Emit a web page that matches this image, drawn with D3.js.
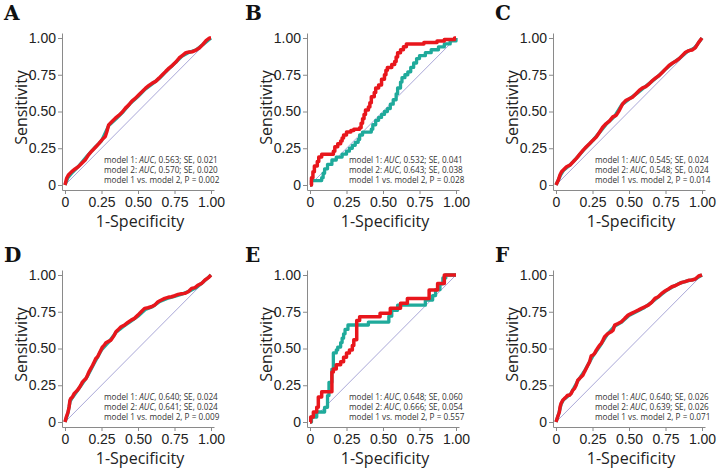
<!DOCTYPE html>
<html><head><meta charset="utf-8">
<script src="https://cdn.jsdelivr.net/npm/d3@7"></script>
<style>body{margin:0;background:#fff}</style>
</head><body>
<svg id="c" width="725" height="473"></svg>
<script>
// ---------- data ----------
const panelLabels = ["A","B","C","D","E","F"];
const tickValues = [0, 0.25, 0.5, 0.75, 1];
const tickLabels = ["0","0.25","0.50","0.75","1.00"];
const xTitle = "1-Specificity";
const yTitle = "Sensitivity";

const annotA = ["model 1: AUC, 0.563; SE, 0.021","model 2: AUC, 0.570; SE, 0.020","model 1 vs. model 2, P = 0.002"];
const annotB = ["model 1: AUC, 0.532; SE, 0.041","model 2: AUC, 0.643; SE, 0.038","model 1 vs. model 2, P = 0.028"];
const annotC = ["model 1: AUC, 0.545; SE, 0.024","model 2: AUC, 0.548; SE, 0.024","model 1 vs. model 2, P = 0.014"];
const annotD = ["model 1: AUC, 0.640; SE, 0.024","model 2: AUC, 0.641; SE, 0.024","model 1 vs. model 2, P = 0.009"];
const annotE = ["model 1: AUC, 0.648; SE, 0.060","model 2: AUC, 0.666; SE, 0.054","model 1 vs. model 2, P = 0.557"];
const annotF = ["model 1: AUC, 0.640; SE, 0.026","model 2: AUC, 0.639; SE, 0.026","model 1 vs. model 2, P = 0.071"];

// model 1 (teal) and model 2 (red) ROC points: [1-specificity, sensitivity]
const tealA = [[0,0],[0.02,0.05],[0.05,0.085],[0.1,0.135],[0.15,0.195],[0.2,0.25],[0.25,0.3],[0.3,0.405],[0.35,0.45],[0.4,0.5],[0.45,0.558],[0.5,0.602],[0.55,0.652],[0.6,0.69],[0.65,0.728],[0.7,0.78],[0.75,0.826],[0.8,0.875],[0.85,0.902],[0.9,0.92],[0.95,0.96],[1,1]];
const redA = [[0,0],[0.011,0.045],[0.023,0.068],[0.046,0.091],[0.069,0.109],[0.092,0.125],[0.115,0.148],[0.138,0.17],[0.161,0.205],[0.184,0.232],[0.207,0.255],[0.23,0.28],[0.253,0.307],[0.276,0.33],[0.287,0.364],[0.299,0.409],[0.322,0.432],[0.345,0.455],[0.368,0.473],[0.391,0.495],[0.414,0.523],[0.437,0.545],[0.46,0.573],[0.483,0.591],[0.506,0.614],[0.529,0.636],[0.552,0.659],[0.575,0.677],[0.598,0.693],[0.621,0.705],[0.644,0.727],[0.667,0.75],[0.69,0.773],[0.713,0.795],[0.736,0.814],[0.759,0.836],[0.782,0.864],[0.805,0.882],[0.828,0.9],[0.851,0.905],[0.874,0.907],[0.897,0.918],[0.92,0.932],[0.943,0.955],[0.966,0.982],[0.989,1.0],[1,1]];

const tealB = [[0,0],[0.01,0.03],[0.08,0.05],[0.09,0.08],[0.10,0.11],[0.12,0.14],[0.15,0.17],[0.18,0.19],[0.22,0.21],[0.25,0.23],[0.27,0.25],[0.29,0.27],[0.31,0.29],[0.33,0.31],[0.34,0.34],[0.36,0.36],[0.42,0.38],[0.43,0.41],[0.45,0.44],[0.47,0.46],[0.49,0.48],[0.51,0.50],[0.53,0.52],[0.55,0.55],[0.57,0.58],[0.59,0.62],[0.60,0.66],[0.62,0.70],[0.63,0.73],[0.65,0.75],[0.67,0.77],[0.69,0.80],[0.71,0.83],[0.73,0.86],[0.75,0.88],[0.79,0.90],[0.83,0.92],[0.88,0.94],[0.92,0.96],[0.96,0.98],[1,1]];
const redB = [[0,0],[0.01,0.05],[0.02,0.09],[0.03,0.13],[0.05,0.16],[0.06,0.19],[0.08,0.21],[0.16,0.23],[0.17,0.26],[0.19,0.28],[0.21,0.30],[0.22,0.32],[0.23,0.34],[0.25,0.36],[0.28,0.37],[0.30,0.38],[0.34,0.39],[0.35,0.42],[0.36,0.45],[0.37,0.48],[0.38,0.51],[0.40,0.53],[0.41,0.56],[0.42,0.60],[0.44,0.63],[0.45,0.66],[0.47,0.68],[0.49,0.72],[0.51,0.75],[0.52,0.78],[0.53,0.80],[0.56,0.82],[0.58,0.84],[0.59,0.87],[0.60,0.90],[0.62,0.92],[0.64,0.94],[0.66,0.96],[0.78,0.97],[0.87,0.98],[0.92,0.99],[0.99,1.0],[1,1]];

const tealC = [[0,0],[0.03,0.065],[0.05,0.098],[0.1,0.14],[0.15,0.193],[0.2,0.25],[0.25,0.3],[0.3,0.36],[0.35,0.42],[0.4,0.465],[0.45,0.545],[0.5,0.584],[0.55,0.62],[0.6,0.66],[0.65,0.7],[0.7,0.74],[0.75,0.788],[0.8,0.83],[0.85,0.865],[0.9,0.908],[0.95,0.932],[1,1]];
const redC = [[0,0],[0.016,0.034],[0.027,0.068],[0.038,0.09],[0.05,0.102],[0.072,0.124],[0.095,0.135],[0.118,0.158],[0.14,0.181],[0.163,0.21],[0.186,0.237],[0.208,0.26],[0.231,0.282],[0.253,0.305],[0.276,0.327],[0.299,0.361],[0.321,0.395],[0.344,0.418],[0.367,0.436],[0.389,0.463],[0.412,0.474],[0.434,0.508],[0.457,0.553],[0.48,0.576],[0.502,0.587],[0.525,0.598],[0.548,0.621],[0.57,0.643],[0.593,0.661],[0.615,0.67],[0.638,0.688],[0.661,0.711],[0.683,0.729],[0.706,0.745],[0.729,0.767],[0.751,0.79],[0.774,0.813],[0.796,0.828],[0.819,0.842],[0.842,0.858],[0.864,0.88],[0.887,0.903],[0.91,0.914],[0.932,0.918],[0.955,0.935],[0.977,0.97],[1,1]];

const tealD = [[0,0],[0.02,0.06],[0.035,0.14],[0.05,0.165],[0.1,0.235],[0.15,0.305],[0.2,0.4],[0.25,0.49],[0.3,0.545],[0.35,0.61],[0.4,0.65],[0.45,0.685],[0.5,0.72],[0.55,0.765],[0.6,0.785],[0.65,0.82],[0.7,0.84],[0.75,0.855],[0.8,0.87],[0.85,0.89],[0.9,0.915],[0.95,0.955],[1,1]];
const redD = [[0,0],[0.009,0.034],[0.021,0.068],[0.028,0.102],[0.034,0.148],[0.039,0.159],[0.051,0.17],[0.062,0.193],[0.074,0.205],[0.085,0.216],[0.097,0.232],[0.108,0.25],[0.12,0.273],[0.131,0.284],[0.143,0.295],[0.154,0.318],[0.166,0.345],[0.177,0.364],[0.189,0.386],[0.2,0.409],[0.211,0.432],[0.223,0.443],[0.234,0.466],[0.246,0.489],[0.257,0.511],[0.269,0.523],[0.28,0.539],[0.292,0.545],[0.315,0.557],[0.338,0.591],[0.349,0.614],[0.361,0.625],[0.384,0.648],[0.407,0.659],[0.43,0.677],[0.453,0.693],[0.476,0.705],[0.499,0.727],[0.522,0.75],[0.545,0.773],[0.568,0.777],[0.591,0.784],[0.614,0.795],[0.637,0.818],[0.66,0.83],[0.683,0.841],[0.706,0.848],[0.729,0.852],[0.752,0.859],[0.775,0.868],[0.798,0.873],[0.821,0.875],[0.844,0.886],[0.867,0.909],[0.89,0.914],[0.913,0.932],[0.936,0.943],[0.959,0.966],[0.982,0.982],[1,1]];

const tealE = [[0,0],[0.01,0.034],[0.046,0.068],[0.10,0.10],[0.12,0.18],[0.13,0.27],[0.15,0.36],[0.16,0.47],[0.18,0.49],[0.19,0.51],[0.21,0.54],[0.22,0.57],[0.23,0.60],[0.24,0.63],[0.26,0.66],[0.40,0.68],[0.54,0.72],[0.56,0.76],[0.60,0.795],[0.79,0.83],[0.84,0.86],[0.86,0.90],[0.89,0.94],[0.91,0.98],[0.93,1.0],[1,1]];
const redE = [[0,0],[0.005,0.034],[0.023,0.068],[0.046,0.10],[0.057,0.17],[0.08,0.205],[0.15,0.34],[0.16,0.36],[0.18,0.39],[0.21,0.41],[0.23,0.44],[0.25,0.47],[0.27,0.49],[0.29,0.52],[0.30,0.56],[0.32,0.69],[0.34,0.716],[0.48,0.739],[0.55,0.773],[0.62,0.807],[0.667,0.84],[0.816,0.898],[0.874,0.943],[0.92,1.0],[1,1]];

const tealF = [[0,0],[0.02,0.06],[0.035,0.12],[0.05,0.15],[0.1,0.19],[0.15,0.28],[0.2,0.355],[0.25,0.445],[0.3,0.515],[0.35,0.595],[0.4,0.65],[0.45,0.68],[0.5,0.725],[0.55,0.75],[0.6,0.775],[0.65,0.81],[0.7,0.85],[0.75,0.89],[0.8,0.92],[0.85,0.945],[0.9,0.96],[0.95,0.97],[1,1]];
const redF = [[0,0],[0.011,0.034],[0.023,0.068],[0.028,0.102],[0.034,0.125],[0.046,0.148],[0.057,0.159],[0.069,0.17],[0.08,0.182],[0.092,0.182],[0.103,0.193],[0.115,0.216],[0.126,0.227],[0.138,0.25],[0.149,0.284],[0.161,0.295],[0.172,0.307],[0.184,0.318],[0.195,0.341],[0.207,0.364],[0.218,0.386],[0.23,0.409],[0.241,0.45],[0.253,0.455],[0.264,0.466],[0.276,0.489],[0.287,0.505],[0.299,0.523],[0.31,0.534],[0.322,0.557],[0.333,0.58],[0.356,0.602],[0.379,0.614],[0.391,0.625],[0.402,0.659],[0.425,0.67],[0.448,0.682],[0.471,0.705],[0.494,0.727],[0.517,0.739],[0.54,0.75],[0.563,0.761],[0.586,0.773],[0.609,0.784],[0.632,0.795],[0.655,0.814],[0.678,0.841],[0.701,0.852],[0.724,0.875],[0.747,0.891],[0.77,0.905],[0.793,0.92],[0.816,0.927],[0.839,0.939],[0.862,0.95],[0.885,0.955],[0.908,0.964],[0.931,0.966],[0.954,0.973],[0.977,0.993],[1,1]];

const teals = [tealA, tealB, tealC, tealD, tealE, tealF];
const reds = [redA, redB, redC, redD, redE, redF];
const annots = [annotA, annotB, annotC, annotD, annotE, annotF];
const stepped = [false, true, false, false, true, false];

// ---------- layout ----------
const colX = [65, 310, 556];
const rowY = [185, 422];
const W = 146, H = 147;
const RED = "#e8161c", TEAL = "#1faa9b", DIAG = "#aaa8d8", AXIS = "#8a8a8a";

const svg = d3.select("#c");

panelLabels.forEach((lab, i) => {
  const col = i % 3, row = Math.floor(i / 3);
  const x0 = colX[col], y0 = rowY[row];
  const ex = 3 / W, ey = 5 / H;
  const x = d3.scaleLinear().domain([-ex, 1 + ex]).range([x0 - 3, x0 + W + 3]);
  const y = d3.scaleLinear().domain([-ey, 1 + ey]).range([y0 + 5, y0 - H - 5]);
  const g = svg.append("g");

  // panel letter
  svg.append("text").attr("x", col === 0 ? 4 : (col === 1 ? 245 : 495))
    .attr("y", row === 0 ? 20 : 262)
    .style("font-family", "'DejaVu Serif', serif")
    .attr("font-weight", "bold").attr("font-size", 20).attr("fill", "#111")
    .text(lab);

  // axes
  const xa = g.append("g").attr("transform", `translate(0,${y(-ey)})`)
    .call(d3.axisBottom(x).tickValues(tickValues).tickFormat((d, k) => tickLabels[k])
      .tickSizeInner(4).tickSizeOuter(0).tickPadding(3));
  const ya = g.append("g").attr("transform", `translate(${x(-ex)},0)`)
    .call(d3.axisLeft(y).tickValues(tickValues).tickFormat((d, k) => tickLabels[k])
      .tickSizeInner(4).tickSizeOuter(0).tickPadding(2));
  [xa, ya].forEach(a => {
    a.select(".domain").attr("stroke", AXIS);
    a.selectAll(".tick line").attr("stroke", AXIS);
    a.selectAll(".tick text").style("font-family", "'Liberation Sans', Arial, sans-serif")
      .attr("font-size", 14).attr("fill", "#222");
  });

  // titles
  g.append("text").attr("x", x(0.5) + 2).attr("y", y0 + 42)
    .attr("text-anchor", "middle").style("font-family", "'Open Sans', sans-serif")
    .attr("font-size", 16).attr("fill", "#222").text(xTitle);
  g.append("text").attr("transform", `translate(${x0 - 38},${y(0.5) - 4}) rotate(-90)`)
    .attr("text-anchor", "middle").style("font-family", "'Open Sans', sans-serif")
    .attr("font-size", 16).attr("fill", "#222").text(yTitle);

  // diagonal reference
  g.append("line").attr("x1", x(0)).attr("y1", y(0)).attr("x2", x(1)).attr("y2", y(1))
    .attr("stroke", DIAG).attr("stroke-width", 1);

  const line = d3.line().x(d => x(d[0])).y(d => y(d[1]))
    .curve(stepped[i] ? d3.curveStepAfter : d3.curveLinear);
  g.append("path").datum(teals[i]).attr("d", line).attr("fill", "none")
    .attr("stroke", TEAL).attr("stroke-width", 3.3).attr("stroke-linejoin", "round");
  g.append("path").datum(reds[i]).attr("d", line).attr("fill", "none")
    .attr("stroke", RED).attr("stroke-width", 3.5).attr("stroke-linejoin", "round");

  // annotations
  annots[i].forEach((s, k) => {
    const t = g.append("text").attr("x", x0 + 39).attr("y", y0 - 22 + k * 10)
      .style("font-family", "'Open Sans', sans-serif").attr("font-size", 8.2).attr("fill", "#333");
    const parts = s.split("AUC");
    t.append("tspan").text(parts[0]);
    if (parts.length > 1) {
      t.append("tspan").attr("font-style", "italic").text("AUC");
      t.append("tspan").text(parts[1]);
    }
  });
});
</script>
</body></html>
